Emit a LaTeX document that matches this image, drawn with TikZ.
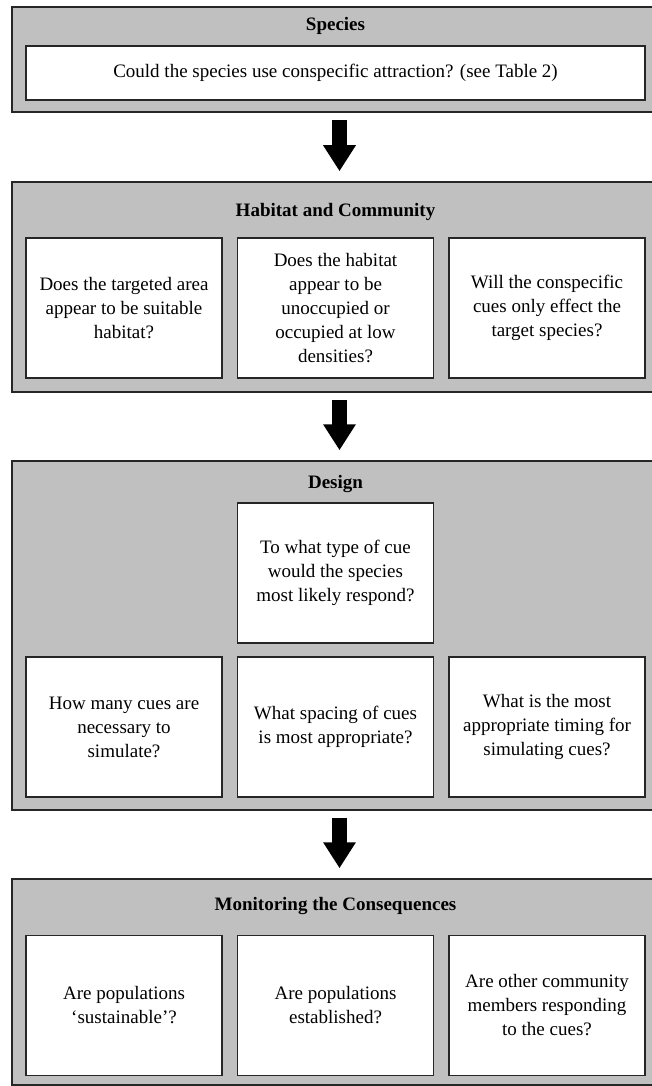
\documentclass[tikz,border=0pt]{standalone}
\usepackage{fontspec}
\setmainfont{Liberation Serif}
\usetikzlibrary{arrows.meta,positioning,calc}
\definecolor{panelgray}{RGB}{192,192,192}
\definecolor{edge}{RGB}{38,38,38}
\newcommand{\qsize}{\fontsize{19}{24}\selectfont}
\tikzset{
  >=Latex,
  panel/.style = {draw=edge, fill=panelgray, line width=1.5pt, minimum width=647pt, inner sep=0pt},
  qbox/.style  = {draw=edge, fill=white, line width=1.6pt, align=center, minimum width=196pt, minimum height=140pt, inner sep=0pt, font=\qsize},
  head/.style  = {inner sep=0pt, font=\qsize\bfseries},
  flow/.style  = {draw=black, line width=15pt, -{Triangle[width=31pt,length=26pt]}, shorten <=7pt, shorten >=10pt}
}

\begin{document}
\begin{tikzpicture}[x=1pt, y=-1pt]  % one unit per pixel of the original, y runs down
  \clip (0,0) rectangle (652,1086);

  %  --  Species
  \node[panel, minimum height=105pt] (spec) at (335.5,59.5) {};
  \node[head] (specT) at (335.5,26) {Species};
  \node[qbox, minimum width=619pt, minimum height=54pt] (specQ) at (335.5,73)
    {Could the species use conspecific attraction? (see Table 2)};

  %  --  Habitat and Community
  \node[panel, minimum height=210pt] (hab) at (335.5,287) {};
  \node[head] (habT) at (335.5,212) {Habitat and Community};
  \foreach \xx/\i/\txt in {
      124/1/{Does the targeted area\\appear to be suitable\\habitat?},
      335.5/2/{Does the habitat\\appear to be\\unoccupied or\\occupied at low\\densities?},
      547/3/{Will the conspecific\\cues only effect the\\target species?}}{
    \node[qbox] (hab\i) at (\xx,308) {\txt};
  }

  %  --  Design
  \node[panel, minimum height=349pt] (des) at (335.5,635.5) {};
  \node[head] (desT) at (335.5,484) {Design};
  \node[qbox] (desTop) at (335.5,573) {To what type of cue\\would the species\\most likely respond?};
  \foreach \xx/\i/\txt in {
      124/1/{How many cues are\\necessary to\\simulate?},
      335.5/2/{What spacing of cues\\is most appropriate?},
      547/3/{What is the most\\appropriate timing for\\simulating cues?}}{
    \node[qbox] (des\i) at (\xx,727) {\txt};
  }

  %  --  Monitoring the Consequences
  \node[panel, minimum height=206pt] (mon) at (335.5,982) {};
  \node[head] (monT) at (335.5,906) {Monitoring the Consequences};
  \foreach \xx/\i/\txt in {
      124/1/{Are populations\\‘sustainable’?},
      335.5/2/{Are populations\\established?},
      547/3/{Are other community\\members responding\\to the cues?}}{
    \node[qbox] (mon\i) at (\xx,1005.5) {\txt};
  }

  %  --  block arrows between the stages
  \foreach \a/\b in {spec/hab,hab/des,des/mon}{
    \draw[flow] ([xshift=4pt]\a.south) -- ([xshift=4pt]\b.north);
  }
\end{tikzpicture}
\end{document}
